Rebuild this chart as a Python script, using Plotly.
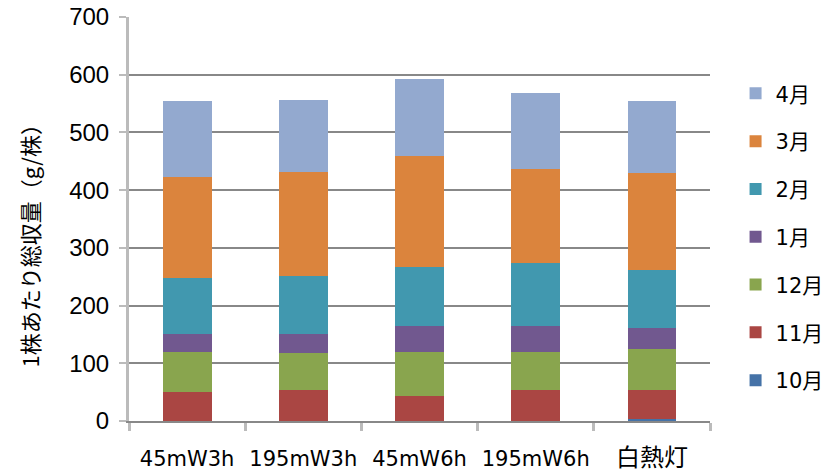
import plotly.graph_objects as go

categories = ["45mW3h", "195mW3h", "45mW6h", "195mW6h", "白熱灯"]
months = ["10月", "11月", "12月", "1月", "2月", "3月", "4月"]
values = {
    "10月": [0, 0, 0, 0, 3],
    "11月": [51, 54, 44, 54, 51],
    "12月": [69, 63, 76, 66, 70],
    "1月": [31, 34, 45, 45, 38],
    "2月": [97, 101, 101, 108, 100],
    "3月": [174, 180, 194, 163, 167],
    "4月": [133, 125, 132, 133, 126],
}
colors = {
    "10月": "#4572A7",
    "11月": "#AA4643",
    "12月": "#89A54E",
    "1月": "#71588F",
    "2月": "#4198AF",
    "3月": "#DB843D",
    "4月": "#93A9CF",
}
y_title = "1株あたり総収量（g/株）"

# CJK labels are drawn slightly larger, as in the reference
tick_text = [c if c.isascii() else "<span style='font-size:24px'>" + c + "</span>" for c in categories]

fig = go.Figure()
n = len(months)
for i, m in enumerate(months):
    fig.add_trace(go.Bar(x=categories, y=values[m], name=m, marker_color=colors[m],
                         marker_line_width=0, legendgroup=m, legendrank=n - i))

fig.update_layout(
    barmode="stack",
    bargap=0.58,
    width=826, height=476,
    margin=dict(l=129, r=116, t=17, b=55, autoexpand=False),
    paper_bgcolor="white", plot_bgcolor="white",
    font=dict(family="DejaVu Sans, Noto Sans CJK JP", color="#000000", size=18),
    legend=dict(traceorder="grouped", x=1.044, xanchor="left", y=0.455, yanchor="middle",
                font=dict(size=21, family="DejaVu Sans, Noto Sans CJK JP"), tracegroupgap=17.5,
                itemwidth=30),
    showlegend=True,
    annotations=[dict(text=y_title, textangle=-90, xref="paper", yref="paper",
                      x=-0.172, y=0.447, xanchor="center", yanchor="middle", showarrow=False,
                      font=dict(size=22, family="Noto Sans CJK JP", color="#000000"))],
)
fig.update_yaxes(
    range=[0, 700], dtick=100, showgrid=True, gridcolor="#888888", gridwidth=1.5,
    showline=True, linecolor="#BBBBBB", linewidth=3,
    ticks="outside", tickcolor="#BBBBBB", ticklen=7, tickwidth=1.5,
    tickfont=dict(family="Liberation Sans, Arial", size=24), ticklabelstandoff=5,
    zeroline=False, automargin=False,
)
fig.update_xaxes(
    showline=True, linecolor="#888888", linewidth=2,
    ticks="outside", tickson="boundaries", tickcolor="#BBBBBB", ticklen=8, tickwidth=3,
    tickvals=categories, ticktext=tick_text,
    tickfont=dict(family="DejaVu Sans, Noto Sans CJK JP", size=21), ticklabelstandoff=18,
    tickangle=0, automargin=False,
)
fig.write_html("out.html", config={"displayModeBar": False},
               post_script="document.body.style.margin='0px';")
